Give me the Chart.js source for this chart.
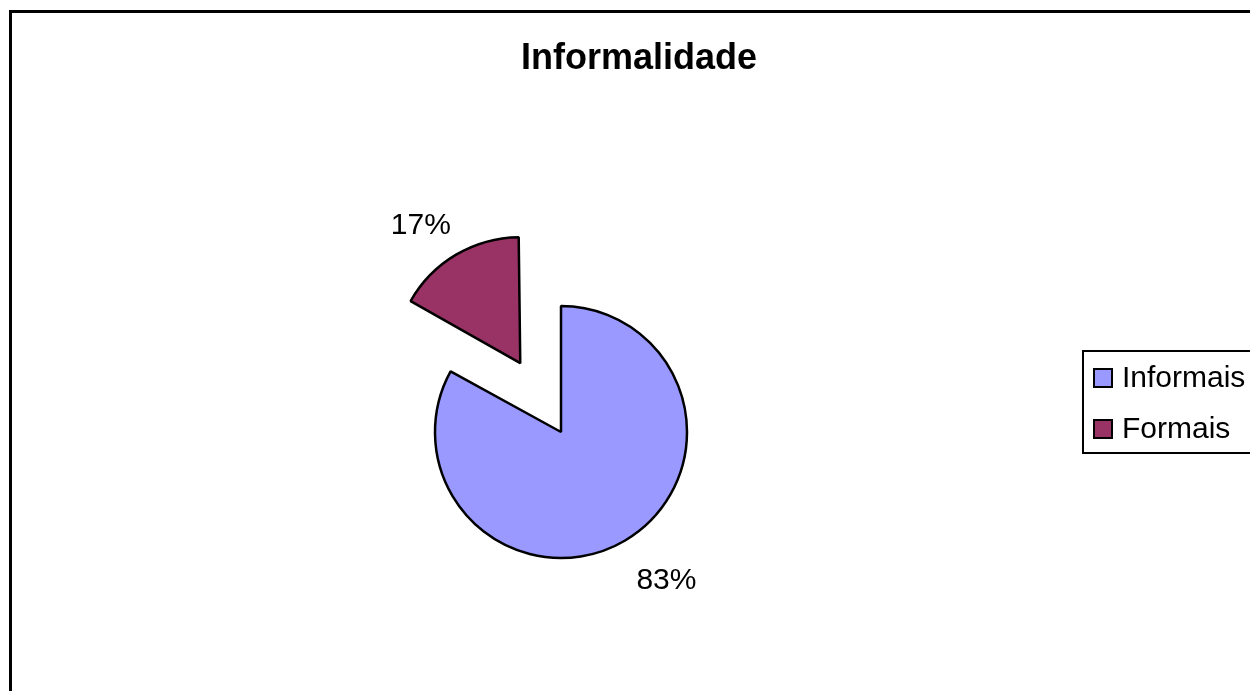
<!DOCTYPE html>
<html>
<head>
<meta charset="utf-8">
<script src="https://cdn.jsdelivr.net/npm/chart.js@4/dist/chart.umd.min.js"></script>
<style>
  html, body { margin: 0; padding: 0; background: #fff; }
  #wrap { width: 1250px; height: 691px; position: relative; }
</style>
</head>
<body>
<div id="wrap"><canvas id="pie"></canvas></div>
<script>
// ── Data ─────────────────────────────────────────────────────────
const titleText = 'Informalidade';
const categories = ['Informais', 'Formais'];
const shares = [83, 17];
const sliceColors = ['#9999FF', '#993366'];
const slicePull = [0, 80];   // Formais is pulled out of the pie (pixels)

const FONT = '"Liberation Sans", Arial, sans-serif';

// Chart.js v4 grows an offset arc's radius by offset*(1-sin(circumference)).
// Undo that so the pulled slice keeps the same radius as the rest.
const keepRadiusPlugin = {
    id: 'keepRadius',
    afterDatasetsUpdate(chart) {
        const meta = chart.getDatasetMeta(0);
        meta.data.forEach((arc, i) => {
            const pull = slicePull[i];
            if (!pull) return;
            const circ = arc.endAngle - arc.startAngle;
            const fix = 1 - Math.sin(Math.min(Math.PI, circ));
            arc.outerRadius -= pull * fix;
        });
    },
};

// ── Frame, title, labels and legend drawn on the canvas ─────────
const decorPlugin = {
    id: 'decor',
    beforeDraw(chart) {
        const ctx = chart.ctx;
        ctx.save();
        ctx.fillStyle = '#fff';
        ctx.fillRect(0, 0, chart.width, chart.height);
        // outer frame (only top and left edges are visible)
        ctx.strokeStyle = '#000';
        ctx.lineWidth = 3;
        ctx.beginPath();
        ctx.moveTo(10.5, chart.height + 2);
        ctx.lineTo(10.5, 11.5);
        ctx.lineTo(chart.width + 2, 11.5);
        ctx.stroke();
        ctx.restore();
    },
    afterDraw(chart) {
        const ctx = chart.ctx;
        ctx.save();

        // title
        ctx.fillStyle = '#000';
        ctx.font = `bold 36px ${FONT}`;
        ctx.textAlign = 'center';
        ctx.textBaseline = 'alphabetic';
        ctx.fillText(titleText, 639, 69);

        // percentage labels, corner nearest the slice placed just outside it
        const meta = chart.getDatasetMeta(0);
        const total = shares.reduce((a, b) => a + b, 0);
        ctx.font = `30px ${FONT}`;
        meta.data.forEach((arc, i) => {
            const { x, y, startAngle, endAngle, outerRadius } = arc.getProps(['x', 'y', 'startAngle', 'endAngle', 'outerRadius'], true);
            const mid = (startAngle + endAngle) / 2;
            const cx = x + Math.cos(mid) * slicePull[i];
            const cy = y + Math.sin(mid) * slicePull[i];
            const r = outerRadius + 30;
            const px = cx + Math.cos(mid) * r;
            const py = cy + Math.sin(mid) * r;
            const txt = Math.round(shares[i] / total * 100) + '%';
            const below = Math.sin(mid) >= 0;
            ctx.textAlign = Math.cos(mid) >= 0 ? 'left' : 'right';
            ctx.textBaseline = below ? 'top' : 'bottom';
            ctx.fillText(txt, px + (below ? -4 : 5), py + (below ? -1 : 3));
        });

        // legend box
        ctx.strokeStyle = '#000';
        ctx.lineWidth = 2;
        ctx.strokeRect(1083, 351, 200, 102);
        ctx.font = `30px ${FONT}`;
        ctx.textAlign = 'left';
        ctx.textBaseline = 'middle';
        categories.forEach((name, i) => {
            const yMid = 378 + i * 51;
            ctx.fillStyle = sliceColors[i];
            ctx.fillRect(1094, yMid - 9, 18, 18);
            ctx.strokeStyle = '#000';
            ctx.lineWidth = 2;
            ctx.strokeRect(1094, yMid - 9, 18, 18);
            ctx.fillStyle = '#000';
            ctx.fillText(name, 1122, yMid + 1);
        });

        ctx.restore();
    },
};

new Chart(document.getElementById('pie'), {
    type: 'pie',
    plugins: [keepRadiusPlugin, decorPlugin],
    data: {
        labels: categories,
        datasets: [{
            data: shares,
            backgroundColor: sliceColors,
            borderColor: '#000',
            borderWidth: 2.5,
            // Chart.js v4 moves an arc by offset / 4
            offset: slicePull.map(p => p * 4),
            hoverOffset: 0,
        }],
    },
    options: {
        responsive: true,
        maintainAspectRatio: false,
        animation: false,
        radius: 126,
        // chart area centred on the pie at (561, 432)
        layout: { padding: { left: 0, right: 128, top: 173, bottom: 0 } },
        plugins: {
            legend: { display: false },
            title: { display: false },
            tooltip: { enabled: false },
        },
    },
});
</script>
</body>
</html>
